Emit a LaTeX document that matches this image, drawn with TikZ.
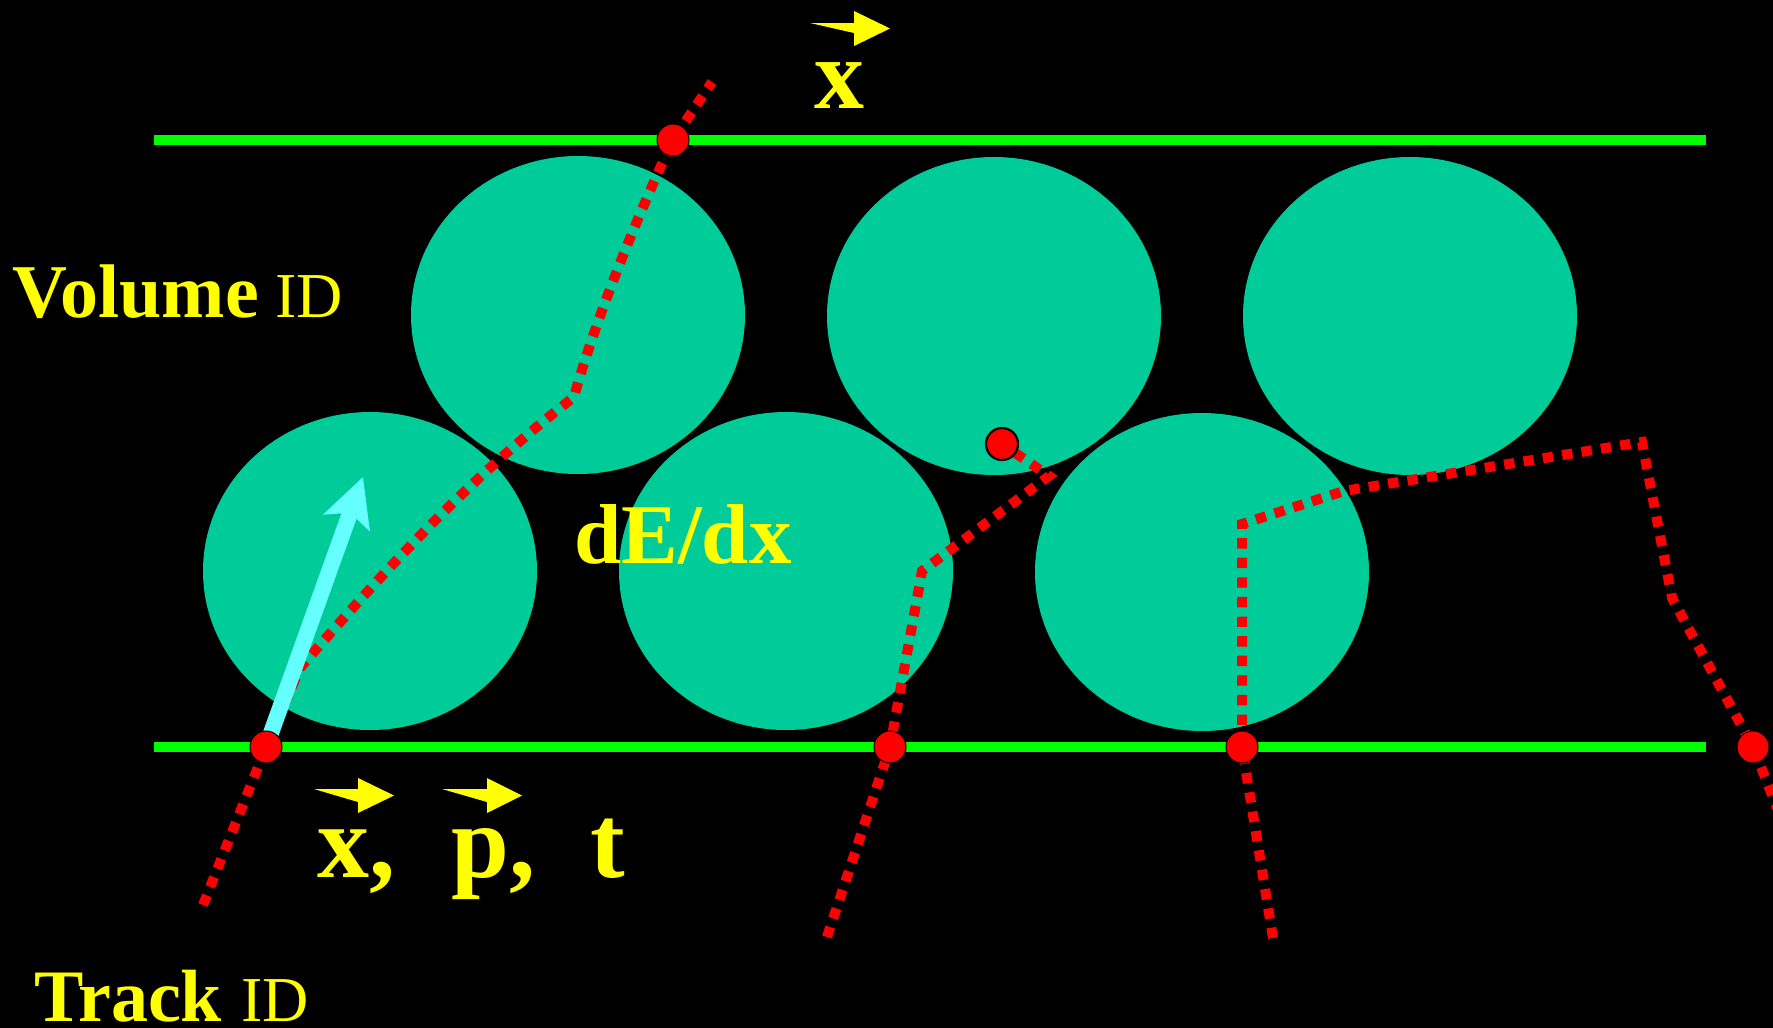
\documentclass[tikz,border=0pt]{standalone}
\usepackage{fontspec}
\setmainfont{Liberation Serif}
\usetikzlibrary{arrows.meta}
\definecolor{cellteal}{RGB}{0,204,153}
\definecolor{momcyan}{RGB}{102,255,255}
\definecolor{layergreen}{RGB}{0,255,0}
\definecolor{labelyellow}{RGB}{255,255,0}
\definecolor{hitred}{RGB}{255,0,0}
\begin{document}
\begin{tikzpicture}[x=0.5pt,y=-0.5pt,
  cell/.style={fill=cellteal},
  layer/.style={draw=layergreen,line width=4.75pt},
  track/.style={draw=hitred,line width=5pt,dash pattern=on 5.2pt off 4.6pt},
  hit/.style={circle,fill=hitred,draw=black,line width=0.5pt,minimum size=16pt,inner sep=0pt},
  lbl/.style={text=labelyellow,inner sep=0pt,anchor=base west},
  vecarrow/.style={fill=labelyellow},
  momentum/.style={draw=momcyan,line width=8pt,-{Stealth[length=24pt,width=24pt,inset=5pt]}}
]
% background and bounding box
\fill[black] (0,0) rectangle (1773,1028);
\useasboundingbox (0,0) rectangle (1773,1028);

% detector layers
\draw[layer] (154,140) -- (1706,140);
\draw[layer] (154,747) -- (1706,747);

% cells
\fill[cell] (578,315) ellipse [x radius=83.5pt,y radius=79.5pt];
\fill[cell] (994,316) ellipse [x radius=83.5pt,y radius=79.5pt];
\fill[cell] (1410,316) ellipse [x radius=83.5pt,y radius=79.5pt];
\fill[cell] (370,571) ellipse [x radius=83.5pt,y radius=79.5pt];
\fill[cell] (786,571) ellipse [x radius=83.5pt,y radius=79.5pt];
\fill[cell] (1202,572) ellipse [x radius=83.5pt,y radius=79.5pt];

% hit point positions
\coordinate (h1) at (266,747);
\coordinate (h2) at (673,140);
\coordinate (h3) at (890,747);
\coordinate (h4) at (1242,747);
\coordinate (h5) at (1753,747);
\coordinate (h6) at (1002,444);

% track points
\coordinate (t1s) at (203,905);
\coordinate (t1k) at (300,668);
\coordinate (t1b) at (574,397);
\coordinate (t1e) at (712,82);
\coordinate (t2s) at (827,937);
\coordinate (t2a) at (922,571);
\coordinate (t2b) at (1049,476);
\coordinate (t3s) at (1273,938);
\coordinate (t3a) at (1242,524);
\coordinate (t3b) at (1344,491);
\coordinate (t3c) at (1642,442);
\coordinate (t3d) at (1672,598);
\coordinate (t3e) at (1792,845);

% tracks
\draw[track] (t1s) -- (h1) -- (t1k) .. controls (400,552) and (480,470) .. (t1b)
  .. controls (595,320) and (640,210) .. (h2) -- (t1e);
\draw[track] (t2s) -- (h3) -- (t2a) -- (t2b) -- (h6);
\draw[track] (t3s) -- (h4) -- (t3a) -- (t3b) -- (t3c) -- (t3d) -- (h5) -- (t3e);

% momentum arrow
\coordinate (ptip) at (363,477);
\draw[momentum] (h1) -- (ptip);

% hits on top
\node[hit] (hit1) at (h1) {};
\node[hit] (hit2) at (h2) {};
\node[hit] (hit3) at (h3) {};
\node[hit] (hit4) at (h4) {};
\node[hit] (hit5) at (h5) {};
\node[hit,line width=1.1pt] (hit6) at (h6) {};

% vector arrows
\fill[vecarrow] (810,23) -- (854,23) -- (854,11) -- (890,28.5) -- (854,46) -- (854,33) -- cycle;
\fill[vecarrow] (314,789) -- (358,789) -- (358,778) -- (394,795.5) -- (358,813) -- (358,802) -- cycle;
\fill[vecarrow] (442,789) -- (487,789) -- (487,778) -- (522,795.5) -- (487,813) -- (487,802) -- cycle;

% labels
\node[lbl] (vol) at (12,317) {\fontsize{38pt}{38pt}\selectfont\bfseries Volume};
\node[lbl] (volid) at (275,317) {\fontsize{32pt}{32pt}\selectfont ID};
\node[lbl] (xtop) at (814,108) {\fontsize{50pt}{50pt}\selectfont\bfseries x};
\node[lbl] (dedx) at (574,563) {\fontsize{42.5pt}{42.5pt}\selectfont\bfseries dE/dx};
\node[lbl] (xb) at (317,877) {\fontsize{52pt}{52pt}\selectfont\bfseries x,};
\node[lbl] (pb) at (451,877) {\fontsize{52pt}{52pt}\selectfont\bfseries p,};
\node[lbl] (tb) at (590,877) {\fontsize{52pt}{52pt}\selectfont\bfseries t};
\node[lbl] (trk) at (34,1021) {\fontsize{37pt}{37pt}\selectfont\bfseries Track};
\node[lbl] (trkid) at (241,1021) {\fontsize{32pt}{32pt}\selectfont ID};
\end{tikzpicture}
\end{document}
